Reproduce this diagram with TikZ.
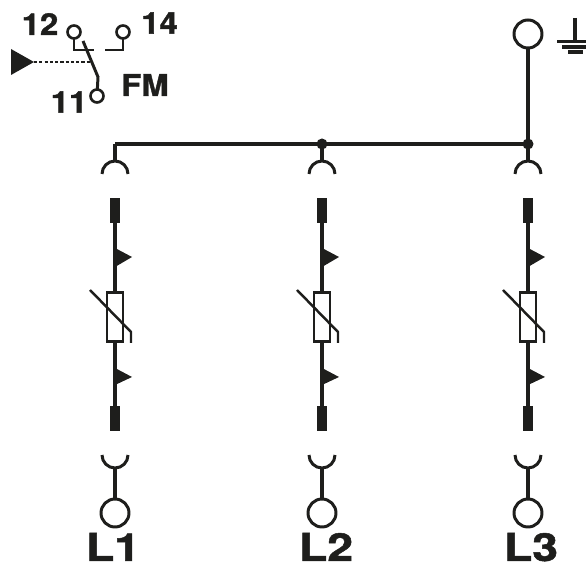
\documentclass[tikz,border=0pt]{standalone}
\usepackage{fontspec}
\setmainfont[BoldFeatures={FakeBold=1.3,FakeStretch=1.2}]{TeX Gyre Heros}
\newfontfamily\smallheavy[BoldFeatures={FakeBold=1.3,FakeStretch=1.1}]{TeX Gyre Heros}
\usepackage{tikz}
\usetikzlibrary{
    positioning,
    calc
}
\definecolor{printBlack}{RGB}{30, 30, 28}

\tikzset{
    wire/.style={line width=2.2pt, printBlack},
    thinwire/.style={line width=1.7pt, printBlack},
    terminal/.style={circle, draw=printBlack, line width=1.7pt, minimum size=0.56cm, inner sep=0pt, outer sep=0pt},
    contact/.style={circle, draw=printBlack, line width=1.5pt, minimum size=0.26cm, inner sep=0pt, outer sep=0pt},
    block/.style={rectangle, fill=printBlack, minimum width=0.19cm, minimum height=0.5cm, inner sep=0pt, outer sep=0pt},
    varistor/.style={rectangle, draw=printBlack, line width=1.4pt, minimum width=0.32cm, minimum height=0.98cm, inner sep=0pt, outer sep=0pt},
    junction/.style={circle, fill=printBlack, minimum size=0.22cm, inner sep=0pt, outer sep=0pt},
    biglabel/.style={font=\bfseries\fontsize{22}{22}\selectfont, text=printBlack, inner sep=0pt, anchor=base},
    smalllabel/.style={font=\smallheavy\bfseries\fontsize{17}{17}\selectfont, text=printBlack, inner sep=0pt}
}

\begin{document}
\begin{tikzpicture}[x=0.02cm, y=0.02cm]
            \useasboundingbox (0, 0) rectangle (586, 565);

            % Columns
            \foreach \x/\lab/\dx in {115/L1/-2, 322/L2/4, 528/L3/3} {
                \coordinate (bus\lab) at (\x, 421);
                \coordinate (top\lab) at (\x, 403);
                \coordinate (cup\lab) at (\x, 97);
                \node[block] (blockA\lab) at (\x, 354.5) {};
                \node[varistor] (var\lab) at (\x, 248) {};
                \node[block] (blockB\lab) at (\x, 146) {};
                \node[terminal] (term\lab) at (\x, 52) {};
                \node[biglabel] (label\lab) at ({\x+\dx}, 4) {\lab};

                \draw[wire] (bus\lab) -- (top\lab);
                \draw[thinwire] (\x-13, 391) arc (180:0:0.26cm);
                \draw[thinwire] (\x-13, 110) arc (180:360:0.26cm);
                \draw[wire] (cup\lab) -- (term\lab);
                \draw[wire] (blockA\lab) -- (var\lab);
                \draw[wire] (var\lab) -- (blockB\lab);

                % Arrow heads on the line
                \fill[printBlack] (\x, 317) -- (\x+17, 308) -- (\x, 298) -- cycle;
                \fill[printBlack] (\x, 197) -- (\x+17, 188) -- (\x, 180) -- cycle;

                % Slanted stroke
                \draw[line width=1.4pt, printBlack] (\x-25, 275) -- (\x+16, 233) -- (\x+16, 222);
            }

            % Bus and earth
            \node[terminal] (earth) at (528, 531) {};
            \node[junction] (dotB) at (busL2) {};
            \node[junction] (dotC) at (busL3) {};
            \draw[wire] (busL1) -- (busL3);
            \draw[wire] (earth) -- (busL3);
            \draw[wire] (575, 547) -- (575, 524);
            \draw[wire] (557, 523.5) -- (586, 523.5);
            \draw[wire] (562, 518) -- (586, 518);
            \draw[wire] (568, 513) -- (583, 513);

            % Contact
            \node[contact] (c12) at (74, 533) {};
            \node[contact] (c14) at (123, 533) {};
            \node[contact] (c11) at (97, 469) {};
            \draw[thinwire] (c12) -- (74, 515) -- (94, 515);
            \draw[thinwire] (c14) -- (123, 515) -- (105, 515);
            \draw[thinwire] (c11) -- (98, 488) -- (83, 524);
            \fill[printBlack] (11, 516) -- (34, 503) -- (11, 490) -- cycle;
            \draw[dash pattern=on 1.8pt off 1.2pt, line width=0.6pt, printBlack] (34, 503) -- (92, 503);

            \node[smalllabel] (n12) at (40, 541) {12};
            \node[smalllabel] (n14) at (159.5, 542) {14};
            \node[smalllabel] (n11) at (69, 463) {11};
            \node[smalllabel] (nFM) at (145, 480) {FM};
        \end{tikzpicture}
\end{document}
